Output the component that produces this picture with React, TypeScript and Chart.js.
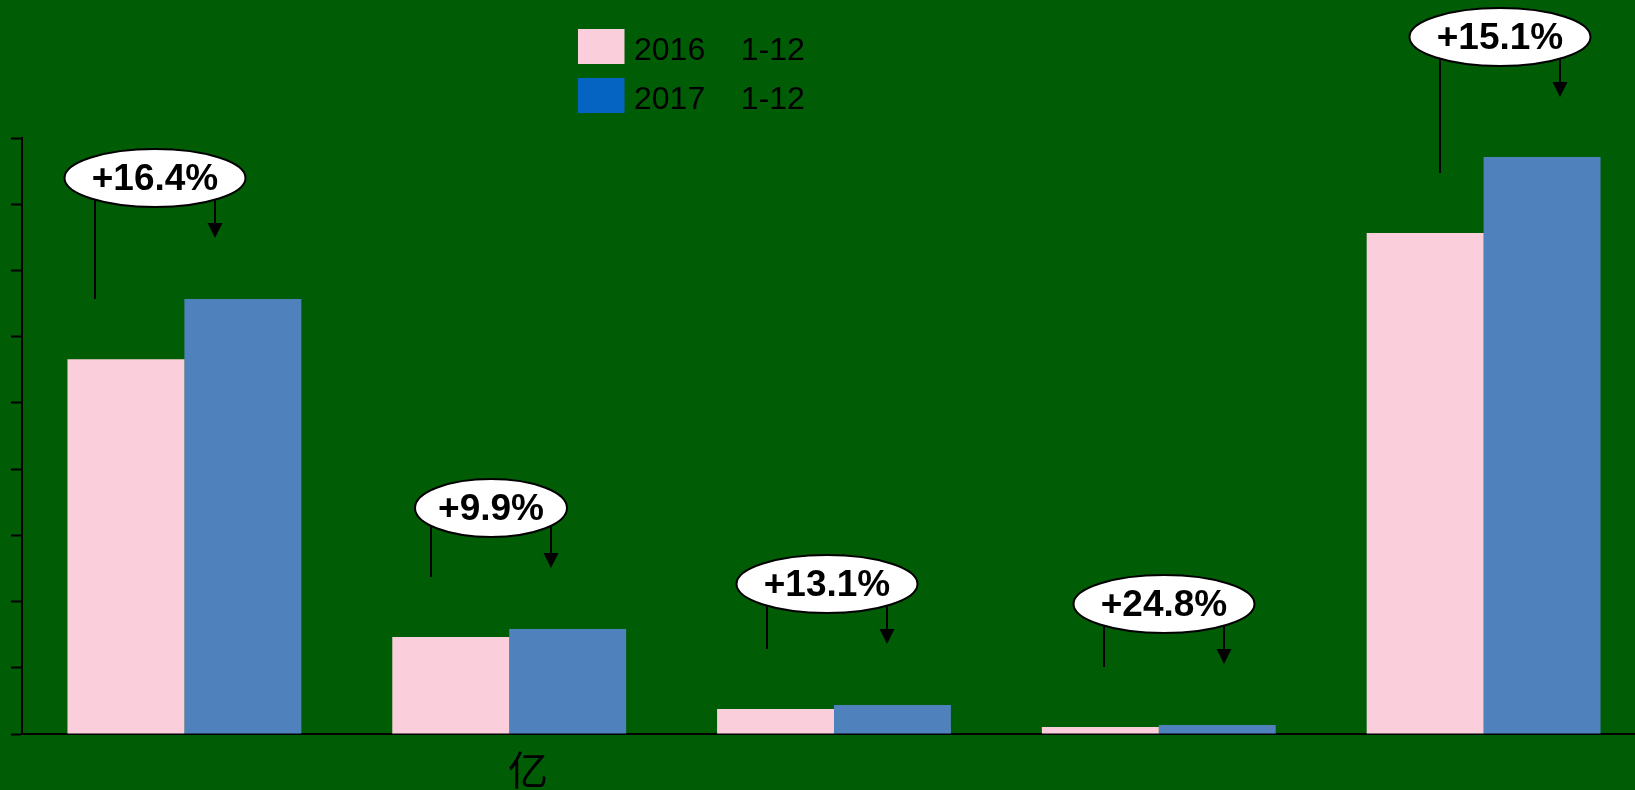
import React, { useEffect, useRef } from "react";
import { Chart, registerables } from "chart.js";

Chart.register(...registerables);

// ---- data ----
const categories = ["A", "B", "C", "D", "E"];
const seriesNames = ["2016    1-12", "2017    1-12"];
const values2016 = [5658, 1465, 378, 106, 7566];
const values2017 = [6569, 1586, 438, 136, 8713];
const growthLabels = ["+16.4%", "+9.9%", "+13.1%", "+24.8%", "+15.1%"];
const unitLabel = "亿";
const yMax = 9000;
const yStep = 1000;

// ---- layout / style (not data) ----
const calloutOffsetX = [-29.5, -18, -7, 5, 16];
const calloutRx = [90.5, 76, 90.5, 90.5, 90.5];
const BG = "#015c06";
const PINK = "#facfdb";
const BLUE = "#4f81bd";
const LEGEND_BLUE = "#0563c1";

const calloutPlugin = {
  id: "callouts",
  afterDatasetsDraw(chart: any) {
    const ctx = chart.ctx;
    const m0 = chart.getDatasetMeta(0).data;
    const m1 = chart.getDatasetMeta(1).data;
    ctx.save();
    for (let i = 0; i < categories.length; i++) {
      const p = m0[i];
      const b = m1[i];
      if (!p || !b) continue;
      const center = (p.x + b.x) / 2;
      const cx = Math.round(center + calloutOffsetX[i]);
      const cy = Math.round(b.y - 120.5);
      const rx = calloutRx[i];
      const ry = 29;
      ctx.strokeStyle = "#000";
      ctx.fillStyle = "#000";
      ctx.lineWidth = 2;
      // left line
      ctx.beginPath();
      ctx.moveTo(cx - 60, cy);
      ctx.lineTo(cx - 60, Math.round(p.y - 60));
      ctx.stroke();
      // arrow
      const tip = Math.round(b.y - 60.5);
      ctx.beginPath();
      ctx.moveTo(cx + 60, cy);
      ctx.lineTo(cx + 60, tip - 12);
      ctx.stroke();
      ctx.beginPath();
      ctx.moveTo(cx + 60 - 7.5, tip - 15);
      ctx.lineTo(cx + 60 + 7.5, tip - 15);
      ctx.lineTo(cx + 60, tip);
      ctx.closePath();
      ctx.fill();
      // ellipse
      ctx.beginPath();
      ctx.ellipse(cx, cy, rx, ry, 0, 0, Math.PI * 2);
      ctx.fillStyle = "#fff";
      ctx.fill();
      ctx.lineWidth = 2;
      ctx.strokeStyle = "#000";
      ctx.stroke();
      // text
      ctx.fillStyle = "#000";
      ctx.font = 'bold 37px "Liberation Sans", Arial, sans-serif';
      ctx.textAlign = "center";
      ctx.textBaseline = "alphabetic";
      ctx.fillText(growthLabels[i], cx, cy + 11.5);
    }
    ctx.restore();
  },
};

const decorPlugin = {
  id: "decor",
  afterDraw(chart: any) {
    const ctx = chart.ctx;
    ctx.save();
    // legend
    const colors = [PINK, LEGEND_BLUE];
    const rowTops = [29, 78];
    const baselines = [60, 109.3];
    for (let i = 0; i < seriesNames.length; i++) {
      ctx.fillStyle = colors[i];
      ctx.fillRect(578, rowTops[i], 46.5, 35);
      ctx.fillStyle = "#000";
      ctx.font = '32px "Liberation Sans", Arial, sans-serif';
      ctx.textAlign = "left";
      ctx.textBaseline = "alphabetic";
      ctx.fillText(seriesNames[i], 634, baselines[i]);
    }
    // unit label
    ctx.font = '40px "Noto Sans CJK SC", sans-serif';
    ctx.textAlign = "center";
    ctx.fillStyle = "#000";
    ctx.fillText(unitLabel, 528, 784.5);
    ctx.restore();
  },
};

export default function App() {
  const ref = useRef<HTMLCanvasElement>(null);
  useEffect(() => {
    if (!ref.current) return;
    const chart = new Chart(ref.current, {
      type: "bar",
      data: {
        labels: categories,
        datasets: [
          { label: seriesNames[0], data: values2016, backgroundColor: PINK, borderWidth: 0 },
          { label: seriesNames[1], data: values2017, backgroundColor: BLUE, borderWidth: 0 },
        ],
      },
      options: {
        responsive: false,
        animation: false,
        devicePixelRatio: 1,
        layout: { padding: { top: 138, left: 11, bottom: 56, right: 14 } },
        plugins: { legend: { display: false }, tooltip: { enabled: false } },
        datasets: { bar: { categoryPercentage: 0.72, barPercentage: 1 } },
        scales: {
          x: {
            grid: { display: false, drawTicks: false, tickLength: 0 },
            ticks: { display: false },
            border: { display: true, color: "#000", width: 2 },
          },
          y: {
            min: 0,
            max: yMax,
            ticks: { display: false, stepSize: yStep },
            grid: {
              display: true,
              drawOnChartArea: false,
              drawTicks: true,
              tickLength: 11,
              tickWidth: 2,
              tickColor: "#000",
            },
            border: { display: true, color: "#000", width: 2 },
          },
        },
      },
      plugins: [calloutPlugin, decorPlugin],
    });
    return () => chart.destroy();
  }, []);
  return (
    <div
      style={{
        position: "fixed",
        left: 0,
        top: 0,
        width: 1635,
        height: 790,
        overflow: "hidden",
        background: BG,
      }}
    >
      <canvas ref={ref} width={1660} height={790} style={{ display: "block", width: 1660, height: 790 }} />
    </div>
  );
}
